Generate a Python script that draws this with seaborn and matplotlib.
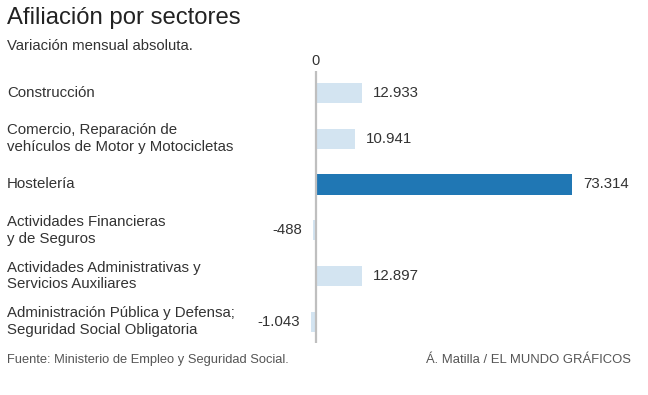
import matplotlib
matplotlib.use("Agg")
import matplotlib.pyplot as plt
import matplotlib.transforms as mtransforms
import seaborn as sns
import pandas as pd

categories = [
    "Construcción",
    "Comercio, Reparación de\nvehículos de Motor y Motocicletas",
    "Hostelería",
    "Actividades Financieras\ny de Seguros",
    "Actividades Administrativas y\nServicios Auxiliares",
    "Administración Pública y Defensa;\nSeguridad Social Obligatoria",
]
values = [12933, 10941, 73314, -488, 12897, -1043]
value_labels = ["12.933", "10.941", "73.314", "-488", "12.897", "-1.043"]

title = "Afiliación por sectores"
subtitle = "Variación mensual absoluta."
source = "Fuente: Ministerio de Empleo y Seguridad Social."
credit = "Á. Matilla / EL MUNDO GRÁFICOS"

light = "#d3e4f1"
dark = "#2077b4"
colors = [dark if v == max(values) else light for v in values]

sns.set_theme(style="white")
plt.rcParams["font.family"] = ["Liberation Sans", "DejaVu Sans"]

W, H = 648, 395
fig = plt.figure(figsize=(W / 100, H / 100), dpi=100)
L, R, T, B = 300, 620, 71, 343
ax = fig.add_axes([L / W, 1 - B / H, (R - L) / W, (B - T) / H])

df = pd.DataFrame({"cat": categories, "val": values})
sns.barplot(data=df, y="cat", x="val", hue="cat", palette=colors, orient="h",
            width=0.40, legend=False, ax=ax, saturation=1)
edge_px = 1.0
for patch, c in zip(ax.patches, colors):
    patch.set_edgecolor(c)
    patch.set_linewidth(2 * edge_px * 0.72)

px = 73314 / 255.0
ax.set_xlim(-(316 - L) * px, (R - 316) * px)
ax.set_ylim(5 + (B - 321.75) / 45.75, -(93 - T) / 45.75)
for s in ax.spines.values():
    s.set_visible(False)
ax.axvline(0, color="#bfbfbf", lw=1.6, zorder=3)
ax.set_xlabel("")
ax.set_ylabel("")
ax.set_yticks([])
ax.xaxis.tick_top()
ax.set_xticks([0])
ax.set_xticklabels(["0"])
ax.tick_params(axis="x", length=0, pad=2, labelsize=10.5, labelcolor="#333333")
for t in ax.get_xticklabels():
    t.set_x(0)

off = (11 + edge_px) * px
for i, (v, lab) in enumerate(zip(values, value_labels)):
    if v >= 0:
        ax.text(v + off, i, lab, ha="left", va="center", fontsize=10.8, color="#333333")
    else:
        ax.text(v - off, i, lab, ha="right", va="center", fontsize=10.8, color="#333333")

trans = mtransforms.blended_transform_factory(fig.transFigure, ax.transData)
for i, c in enumerate(categories):
    ax.text(7 / W, i, c, transform=trans, ha="left", va="center", fontsize=10.8,
            color="#333333", linespacing=1.25, clip_on=False)

fig.text(7 / W, 1 - 18 / H, title, ha="left", va="center", fontsize=17.2, color="#222222")
fig.text(7 / W, 1 - 46 / H, subtitle, ha="left", va="center", fontsize=10.7, color="#333333")
fig.text(7 / W, 1 - 360 / H, source, ha="left", va="center", fontsize=9.3, color="#555555")
fig.text(631 / W, 1 - 360 / H, credit, ha="right", va="center", fontsize=9.4, color="#555555")

fig.savefig("out.png", dpi=100, facecolor="white")
